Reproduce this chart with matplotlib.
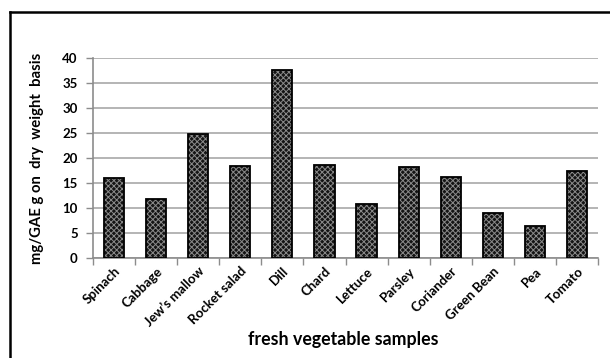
import matplotlib
matplotlib.use("Agg")
import matplotlib.pyplot as plt
from matplotlib.lines import Line2D

samples = ["Spinach", "Cabbage", "Jew\u2019s mallow", "Rocket salad", "Dill", "Chard",
           "Lettuce", "Parsley", "Coriander", "Green Bean", "Pea", "Tomato"]
phenolics = [16.1, 11.9, 24.9, 18.5, 37.6, 18.6, 10.9, 18.3, 16.3, 9.1, 6.5, 17.5]
y_ticks = [0, 5, 10, 15, 20, 25, 30, 35, 40]

plt.rcParams["font.family"] = ["Lato", "DejaVu Sans"]
plt.rcParams["font.weight"] = "bold"
plt.rcParams["hatch.linewidth"] = 0.7

fig = plt.figure(figsize=(6.10, 3.58), dpi=100)
ax = fig.add_axes([93 / 610, 1 - 258 / 358, 505 / 610, 200 / 358])

x = list(range(len(samples)))
# hatched fill, then a black outline on top
ax.bar(x, phenolics, width=0.48, color="#141414", edgecolor="#8a8a8a",
       hatch="xxxxxx", linewidth=0, zorder=3)
ax.bar(x, phenolics, width=0.48, fill=False, edgecolor="black",
       linewidth=1.3, zorder=4)

ax.set_xlim(-0.5, len(samples) - 0.5)
ax.set_ylim(0, 40)
ax.set_yticks(y_ticks)
ax.set_yticklabels([str(v) for v in y_ticks], fontsize=9.5, fontweight="bold")
ax.yaxis.grid(True, color="#b4b4b4", linewidth=1.4, zorder=0)
ax.set_axisbelow(True)

# tick marks between categories, labels under the bars
ax.set_xticks([i - 0.5 for i in range(len(samples) + 1)])
ax.set_xticklabels([])
ax.set_xticks(x, minor=True)
ax.set_xticklabels(samples, minor=True, rotation=45, ha="right",
                   rotation_mode="anchor", fontsize=9.5, fontweight="bold")
ax.tick_params(axis="x", which="minor", length=0, pad=5)
ax.tick_params(axis="x", which="major", length=5, color="#8c8c8c", width=1)
ax.tick_params(axis="y", length=5, color="#8c8c8c", width=1, pad=6)

for side in ("top", "right"):
    ax.spines[side].set_visible(False)
for side in ("left", "bottom"):
    ax.spines[side].set_color("#8c8c8c")
    ax.spines[side].set_linewidth(1.2)

ax.set_ylabel("mg/GAE g on  dry  weight  basis", fontsize=10.7, fontweight="bold",
              labelpad=13)
fig.text(343 / 610, 1 - 340 / 358, "fresh vegetable samples", ha="center",
         va="center", fontsize=12.8, fontweight="bold")

# outer frame along the top and left edges
fig.add_artist(Line2D([10 / 610, 1.0], [1 - 12 / 358, 1 - 12 / 358],
                      transform=fig.transFigure, color="black", linewidth=1.8))
fig.add_artist(Line2D([10 / 610, 10 / 610], [0.0, 1 - 12 / 358],
                      transform=fig.transFigure, color="black", linewidth=1.8))

fig.savefig("out.png", dpi=100)
